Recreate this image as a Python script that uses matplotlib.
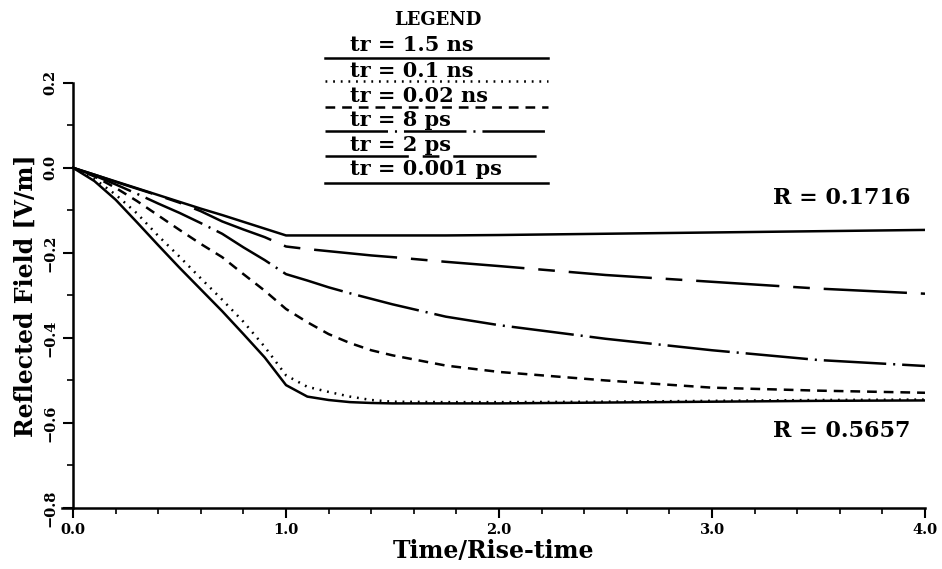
import matplotlib
matplotlib.use("Agg")
import matplotlib.pyplot as plt
from matplotlib.lines import Line2D
from matplotlib.ticker import MultipleLocator, FuncFormatter

plt.rcParams['font.family'] = ['DejaVu Serif']
plt.rcParams['lines.scale_dashes'] = False

# time axis (normalised to rise time)
t = [0.0, 0.1, 0.2, 0.3, 0.4, 0.5, 0.6, 0.7, 0.8, 0.9, 1.0,
     1.1, 1.2, 1.3, 1.4, 1.5, 1.75, 2.0, 2.5, 3.0, 3.5, 4.0]

# reflected field for each rise time
e_1p5ns = [0.0, -0.016, -0.032, -0.048, -0.064, -0.080, -0.096, -0.111, -0.127, -0.143, -0.159,
           -0.159, -0.159, -0.159, -0.159, -0.159, -0.159, -0.158, -0.155, -0.152, -0.149, -0.146]
e_0p1ns = [0.0, -0.026, -0.063, -0.107, -0.160, -0.209, -0.260, -0.310, -0.362, -0.421, -0.488,
           -0.515, -0.527, -0.538, -0.546, -0.550, -0.551, -0.551, -0.550, -0.548, -0.546, -0.545]
e_0p02ns = [0.0, -0.020, -0.047, -0.078, -0.112, -0.146, -0.179, -0.210, -0.250, -0.289, -0.332,
            -0.363, -0.391, -0.412, -0.429, -0.441, -0.465, -0.480, -0.500, -0.517, -0.524, -0.529]
e_8ps = [0.0, -0.018, -0.039, -0.061, -0.084, -0.106, -0.130, -0.155, -0.187, -0.217, -0.250,
         -0.265, -0.281, -0.295, -0.308, -0.321, -0.350, -0.370, -0.402, -0.429, -0.452, -0.466]
e_2ps = [0.0, -0.016, -0.033, -0.049, -0.065, -0.082, -0.102, -0.126, -0.145, -0.163, -0.185,
         -0.191, -0.196, -0.201, -0.206, -0.210, -0.221, -0.231, -0.252, -0.268, -0.284, -0.296]
e_0p001ps = [0.0, -0.031, -0.075, -0.128, -0.182, -0.235, -0.286, -0.337, -0.391, -0.446, -0.511,
             -0.538, -0.546, -0.551, -0.553, -0.554, -0.554, -0.554, -0.552, -0.550, -0.548, -0.547]

labels = ['tr = 1.5 ns', 'tr = 0.1 ns', 'tr = 0.02 ns', 'tr = 8 ps', 'tr = 2 ps', 'tr = 0.001 ps']
series = [e_1p5ns, e_0p1ns, e_0p02ns, e_8ps, e_2ps, e_0p001ps]
styles = ['-', (0, (1.3, 4.2)), (0, (7, 5)), (0, (45, 5, 1.5, 5)), (0, (60, 10, 12, 10)), '-']

fig = plt.figure(figsize=(9.42, 5.69), dpi=100)
# x: 0 -> px 73, 4 -> px 925 ; y: 0.0 -> px 167, -0.8 -> px 508
ax = fig.add_axes([62.4 / 942, 1 - 508 / 569, (925 - 62.4) / 942, (508 - 82.8) / 569])

for y, ls in zip(series, styles):
    ax.plot(t, y, color='black', lw=1.8, ls=ls, dash_capstyle='butt')

ax.set_xlim(-0.05, 4.0)
ax.set_ylim(-0.8, 0.2)
ax.spines['top'].set_visible(False)
ax.spines['right'].set_visible(False)
ax.spines['left'].set_position(('data', 0))
ax.spines['left'].set_linewidth(1.8)
ax.spines['bottom'].set_linewidth(1.8)

def fmt(v, pos):
    return '{:.1f}'.format(v).replace('-', '\u2212')

ax.xaxis.set_major_locator(MultipleLocator(1.0))
ax.xaxis.set_minor_locator(MultipleLocator(0.2))
ax.yaxis.set_major_locator(MultipleLocator(0.2))
ax.yaxis.set_minor_locator(MultipleLocator(0.1))
ax.xaxis.set_major_formatter(FuncFormatter(fmt))
ax.yaxis.set_major_formatter(FuncFormatter(fmt))
ax.tick_params(which='major', direction='out', length=7, width=1.5, labelsize=10.5)
ax.tick_params(which='minor', direction='out', length=4, width=1.2)
ax.tick_params(axis='y', pad=4)
for lab in ax.get_xticklabels() + ax.get_yticklabels():
    lab.set_fontweight('bold')
for lab in ax.get_yticklabels():
    lab.set_rotation(90)
    lab.set_va('center')

ax.set_xlabel('Time/Rise-time', fontsize=17, fontweight='bold', labelpad=2)
ax.set_ylabel('Reflected Field [V/m]', fontsize=17, fontweight='bold', labelpad=4)

ax.text(3.93, -0.07, 'R = 0.1716', fontsize=16, fontweight='bold', ha='right', va='center')
ax.text(3.93, -0.618, 'R = 0.5657', fontsize=16, fontweight='bold', ha='right', va='center')

# hand-drawn style legend: text with the line sample underneath
fig.text(438 / 942, 1 - 20 / 569, 'LEGEND', fontsize=13, fontweight='bold', ha='center', va='center')
text_y = [45, 71, 96, 120, 145, 169]
line_y = [58, 81, 107, 131, 156, 183]
for lab, ls, ty, ly in zip(labels, styles, text_y, line_y):
    fig.text(350 / 942, 1 - ty / 569, lab, fontsize=15, fontweight='bold', ha='left', va='center')
    fig.add_artist(Line2D([325 / 942, 548 / 942], [1 - ly / 569, 1 - ly / 569],
                          transform=fig.transFigure, color='black', lw=1.8, ls=ls,
                          dash_capstyle='butt'))

fig.savefig('out.png', dpi=100)
